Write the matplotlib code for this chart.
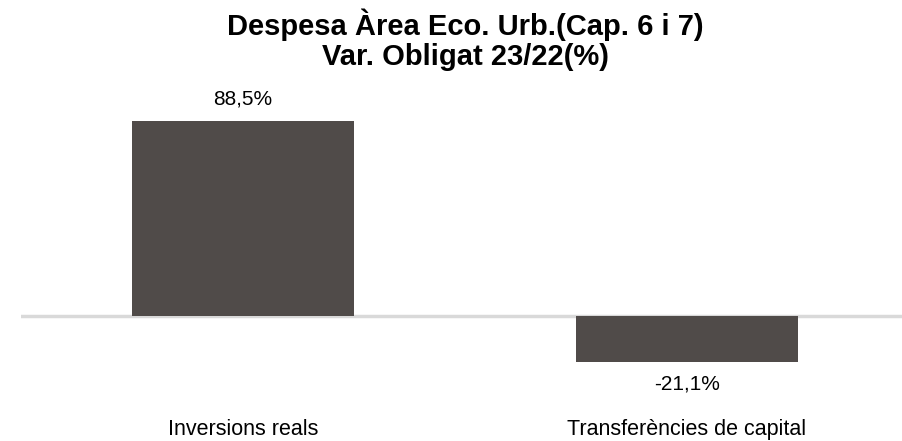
import matplotlib.pyplot as plt

categories = ['Inversions reals', 'Transferències de capital']
values = [88.5, -21.1]
value_labels = ['88,5%', '-21,1%']
title = 'Despesa Àrea Eco. Urb.(Cap. 6 i 7)\nVar. Obligat 23/22(%)'

plt.rcParams['font.family'] = ['Liberation Sans', 'DejaVu Sans']

W, H = 903, 441
fig = plt.figure(figsize=(W / 100, H / 100), dpi=100)
# axes placed in pixel terms: x from 21 to 909, y from 100 to 380
ax = fig.add_axes([21 / W, (H - 380) / H, 888 / W, 280 / H])

bar_color = '#504b49'
x = range(len(categories))
ax.bar(x, values, width=0.5, color=bar_color, zorder=2)
ax.axhline(0, color='#d9d9d9', lw=2.5, zorder=1)
ax.set_xlim(-0.5, 1.5)
ax.set_ylim(-29.05, 98.05)
ax.axis('off')

for i, (v, lab) in enumerate(zip(values, value_labels)):
    off = 22 if v >= 0 else -22
    ax.annotate(lab, (i, v), xytext=(0, off), textcoords='offset pixels',
                ha='center', va='center', fontsize=15)

for i, cat in enumerate(categories):
    ax.annotate(cat, (i, 0), xycoords=('data', 'figure fraction'),
                xytext=(0, H - 435), textcoords='offset pixels',
                ha='center', va='baseline', fontsize=15.5)

fig.text(465 / W, 1 - 40 / H, title, ha='center', va='center',
         fontsize=21, fontweight='bold', linespacing=1.1)

fig.savefig('out.png', dpi=100)
